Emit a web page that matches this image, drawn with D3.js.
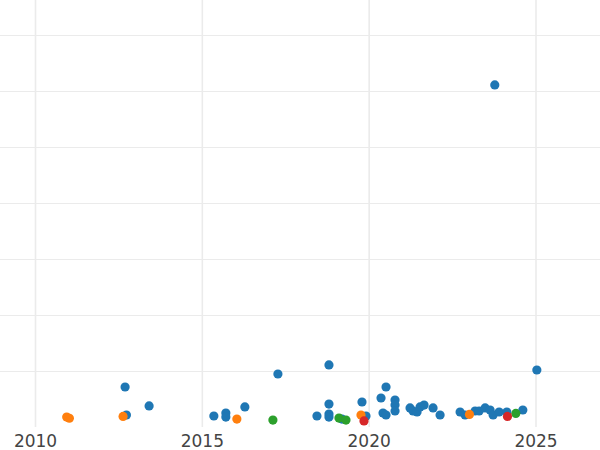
<!DOCTYPE html>
<html>
<head>
<meta charset="utf-8">
<script src="https://cdn.jsdelivr.net/npm/d3@7"></script>
<style>
  body { margin: 0; background: #fff; }
  svg { display: block; }
  .grid line { stroke: #ebebeb; }
  .grid path { display: none; }
  .xaxis path { display: none; }
  .xaxis text { font-family: "DejaVu Sans", sans-serif; font-size: 17px; fill: #444; }
</style>
</head>
<body>
<svg id="chart" width="600" height="450"></svg>
<script>
// Scatter of values by year, four groups (tab10 colours)
const groups = ["blue", "orange", "green", "red"]
const groupColors = ["#1f77b4", "#ff7f0e", "#2ca02c", "#d62728"]

const blueYears = [2012.70, 2012.74, 2013.42, 2015.36, 2015.72, 2015.72, 2016.29, 2017.28, 2018.45, 2018.81,
    2018.81, 2018.81, 2018.81, 2019.20, 2019.80, 2019.92, 2020.37, 2020.52, 2020.43, 2020.52,
    2020.79, 2020.79, 2020.79, 2021.24, 2021.33, 2021.45, 2021.54, 2021.66, 2021.93, 2022.14,
    2022.74, 2022.89, 2023.19, 2023.31, 2023.49, 2023.64, 2023.73, 2023.91, 2024.14, 2024.62,
    2025.04, 2023.78]
const blueValues = [35.7, 10.7, 18.8, 9.8, 12.5, 8.9, 17.9, 47.3, 9.8, 55.4,
    20.5, 11.6, 8.9, 7.1, 22.3, 9.8, 25.9, 35.7, 12.5, 10.7,
    24.1, 19.6, 14.3, 17.0, 14.3, 13.4, 17.9, 19.6, 17.0, 10.7,
    13.4, 10.7, 14.3, 14.3, 17.0, 15.2, 10.7, 13.4, 13.4, 15.2,
    50.9, 305.4]

const orangeYears = [2010.95, 2011.03, 2012.64, 2016.05, 2019.77, 2023.02]
const orangeValues = [8.9, 7.8, 9.4, 7.1, 10.7, 11.2]

const greenYears = [2017.13, 2019.11, 2019.32, 2024.41]
const greenValues = [6.2, 8.0, 6.2, 12.1]

const redYears = [2019.86, 2024.16]
const redValues = [5.4, 9.4]

const xTicks = [2010, 2015, 2020, 2025]
const yTicks = [50, 100, 150, 200, 250, 300, 350]

const width = 600
const height = 450
const plotBottom = 427

var svg = d3.select("#chart")

var x = d3.scaleLinear().domain([2010, 2025]).range([35, 535.5])
var y = d3.scaleLinear().domain([0, 381.25]).range([plotBottom, 0])

// horizontal grid
svg.append("g")
    .attr("class", "grid")
    .call(d3.axisLeft(y).tickValues(yTicks).tickSize(-width).tickFormat(""))
    .selectAll("line")
    .attr("shape-rendering", "crispEdges")

// vertical grid
svg.append("g")
    .attr("class", "grid")
    .attr("transform", "translate(0," + plotBottom + ")")
    .call(d3.axisBottom(x).tickValues(xTicks).tickSize(-plotBottom).tickFormat(""))
    .selectAll("line")
    .attr("stroke-width", 1.6)

// year labels
svg.append("g")
    .attr("class", "xaxis")
    .attr("transform", "translate(0," + plotBottom + ")")
    .call(d3.axisBottom(x).tickValues(xTicks).tickSize(0).tickPadding(8).tickFormat(d3.format("d")))

var series = [
    {years: blueYears, values: blueValues},
    {years: orangeYears, values: orangeValues},
    {years: greenYears, values: greenValues},
    {years: redYears, values: redValues}
]

series.forEach(function(s, i) {
    var pts = s.years.map(function(yr, j) { return [yr, s.values[j]] })
    svg.append("g")
        .selectAll("circle")
        .data(pts)
        .enter()
        .append("circle")
        .attr("cx", function(d) { return x(d[0]) })
        .attr("cy", function(d) { return y(d[1]) })
        .attr("r", 4.6)
        .attr("fill", groupColors[i])
})
</script>
</body>
</html>
